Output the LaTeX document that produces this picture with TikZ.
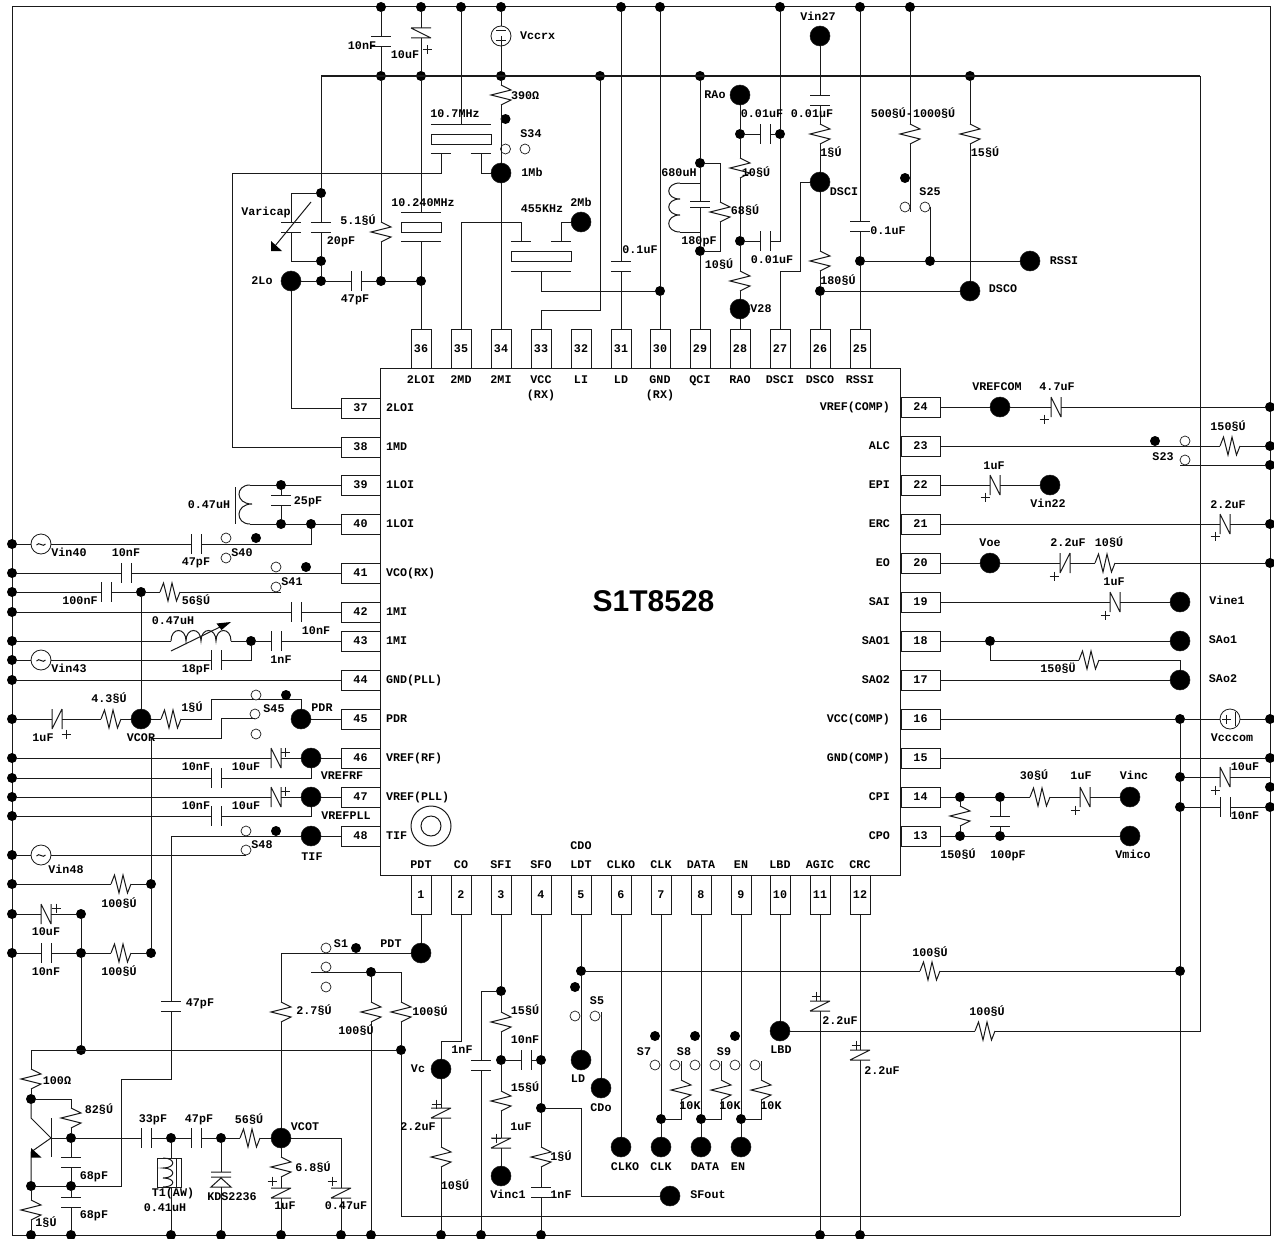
\documentclass[tikz,border=0pt]{standalone}
\usepackage{fontspec}
\setmainfont{Liberation Mono}
\newfontfamily\titlefont{Liberation Sans}
\definecolor{ink}{HTML}{1A1A1A}
\newcounter{labc}
\newcommand\Cc[3]{\coordinate (#1) at (#2,#3);}
\newcommand\Dt[3]{\node[dotn] (#1) at (#2,#3) {};}
\newcommand\Tm[3]{\node[termn] (#1) at (#2,#3) {};}
\newcommand\Op[2]{\node[openn] (o#1-#2) at (#1,#2) {};}
\newcommand\Lb[3]{\stepcounter{labc}\node[lab] (lab\thelabc) at (#1,#2) {#3};}
\newcommand\Lw[3]{\stepcounter{labc}\node[lab,anchor=west] (lab\thelabc) at (#1,#2) {#3};}
\newcommand\Le[3]{\stepcounter{labc}\node[lab,anchor=east] (lab\thelabc) at (#1,#2) {#3};}
\newcommand\Rv[3]{\node[comp,minimum width=20pt,minimum height=20pt] (#1) at (#2,#3) {};
  \draw[sym,shift={(#2,#3)}] (0,-10)--(10,-5)--(-10,0)--(10,5)--(0,10);}
\newcommand\Rh[3]{\node[comp,minimum width=20pt,minimum height=18pt] (#1) at (#2,#3) {};
  \draw[sym,shift={(#2,#3)}] (-10,0)--(-6.5,-9)--(-2,9)--(2,-9)--(6.5,9)--(10,0);}
\newcommand\Cv[3]{\node[comp,minimum width=20pt,minimum height=10pt] (#1) at (#2,#3) {};
  \draw[sym,shift={(#2,#3)}] (-10,-5)--(10,-5) (-10,5)--(10,5);}
\newcommand\Ch[3]{\node[comp,minimum width=10pt,minimum height=20pt] (#1) at (#2,#3) {};
  \draw[sym,shift={(#2,#3)}] (-5,-10)--(-5,10) (5,-10)--(5,10);}
\newcommand\Ev[3]{\node[comp,minimum width=20pt,minimum height=10pt] (#1) at (#2,#3) {};
  \draw[sym,shift={(#2,#3)}] (-10,-5)--(10,-5) (-10,5)--(10,5) (-10,5)--(10,-5);}
\newcommand\Evb[3]{\node[comp,minimum width=20pt,minimum height=10pt] (#1) at (#2,#3) {};
  \draw[sym,shift={(#2,#3)}] (-10,-5)--(10,-5) (-10,5)--(10,5) (-10,-5)--(10,5);}
\newcommand\Eh[3]{\node[comp,minimum width=10pt,minimum height=20pt] (#1) at (#2,#3) {};
  \draw[sym,shift={(#2,#3)}] (-5,-10)--(-5,10) (5,-10)--(5,10) (-5,-10)--(5,10);}
\newcommand\Ehf[3]{\node[comp,minimum width=10pt,minimum height=20pt] (#1) at (#2,#3) {};
  \draw[sym,shift={(#2,#3)}] (-5,-10)--(-5,10) (5,-10)--(5,10) (-5,10)--(5,-10);}
\newcommand\Pl[2]{\draw[sym,shift={(#1,#2)}] (-4.5,0)--(4.5,0) (0,-4.5)--(0,4.5);}
\newcommand\Vac[3]{\node[srcn] (#1) at (#2,#3) {};
  \draw[sym,shift={(#2,#3)}] (-4.5,1) .. controls (-2,-3) and (2,4) .. (4.5,0);}
\tikzset{
 wire/.style={line width=1pt,draw=ink},
 sym/.style={line width=1pt,draw=ink},
 comp/.style={rectangle,inner sep=0pt,outer sep=0pt},
 dotn/.style={circle,fill=black,inner sep=0pt,outer sep=0pt,minimum size=10pt},
 termn/.style={circle,fill=black,draw=ink,line width=.5pt,inner sep=0pt,outer sep=0pt,minimum size=20pt},
 openn/.style={circle,fill=white,draw=ink,line width=.7pt,inner sep=0pt,outer sep=0pt,minimum size=10pt},
 srcn/.style={circle,fill=white,draw=ink,line width=.8pt,inner sep=0pt,outer sep=0pt,minimum size=20pt},
 lab/.style={inner sep=0pt,outer sep=0pt,text height=8pt,text depth=1pt,font=\fontsize{11.7}{12}\selectfont\bfseries,text=black},
 pinv/.style={draw=ink,line width=1pt,rectangle,inner sep=0pt,outer sep=0pt,minimum width=20pt,minimum height=39pt,font=\fontsize{11.7}{12}\selectfont\bfseries},
 pinh/.style={draw=ink,line width=1pt,rectangle,inner sep=0pt,outer sep=0pt,minimum width=39pt,minimum height=20pt,font=\fontsize{11.7}{12}\selectfont\bfseries},
 xtal/.style={draw=ink,line width=1pt,rectangle,inner sep=0pt,outer sep=0pt},
}
\begin{document}
\begin{tikzpicture}[x=1pt,y=-1pt]
\useasboundingbox (0,0) rectangle (1274,1239);
\fill[white] (0,0) rectangle (1274,1239);
% frame and chip
\node[draw=ink,line width=1pt,rectangle,inner sep=0pt,minimum width=1258pt,minimum height=1228pt] (frame) at (641,621) {};
\node[draw=ink,line width=1pt,rectangle,inner sep=0pt,minimum width=519.5pt,minimum height=507pt] (chip) at (640.25,621.5) {};
\node[font=\titlefont\fontsize{30}{30}\selectfont\bfseries,inner sep=0pt] (title) at (653.5,601) {S1T8528};
\node[circle,draw=ink,line width=1pt,minimum size=40pt,inner sep=0pt] (mark1) at (431,826) {};
\node[circle,draw=ink,line width=1pt,minimum size=20pt,inner sep=0pt] (mark2) at (431,826) {};
% pins
\foreach \n/\x in {36/421,35/461,34/501,33/541,32/581,31/621,30/660,29/700,28/740,27/780,26/820,25/860}
  {\node[pinv] (p\n) at (\x,348.5) {\n};}
\foreach \n/\x in {1/421,2/461,3/501,4/541,5/581,6/621,7/661,8/701,9/741,10/780,11/820,12/860}
  {\node[pinv] (p\n) at (\x,894.5) {\n};}
\foreach \n/\y in {37/408,38/447,39/485,40/524,41/573,42/612,43/641,44/680,45/719,46/758,47/797,48/836}
  {\node[pinh] (p\n) at (360.5,\y) {\n};}
\foreach \n/\y in {24/407,23/446,22/485,21/524,20/563,19/602,18/641,17/680,16/719,15/758,14/797,13/836}
  {\node[pinh] (p\n) at (920.5,\y) {\n};}
% pin names
\foreach \x/\t in {421/2LOI,461/2MD,501/2MI,541/VCC,581/LI,621/LD,660/GND,700/QCI,740/RAO,780/DSCI,820/DSCO,860/RSSI}
  {\Lb{\x}{380}{\t}}
\Lb{541}{395}{(RX)}\Lb{660}{395}{(RX)}
\foreach \x/\t in {421/PDT,461/CO,501/SFI,541/SFO,581/LDT,621/CLKO,661/CLK,701/DATA,741/EN,780/LBD,820/AGIC,860/CRC}
  {\Lb{\x}{865}{\t}}
\Lb{581}{846}{CDO}
\foreach \y/\t in {408/2LOI,447/1MD,485/1LOI,524/1LOI,573/VCO(RX),612/1MI,641/1MI,680/GND(PLL),719/PDR,758/VREF(RF),797/VREF(PLL),836/TIF}
  {\Lw{386}{\y}{\t}}
\foreach \y/\t in {407/VREF(COMP),446/ALC,485/EPI,524/ERC,563/EO,602/SAI,641/SAO1,680/SAO2,719/VCC(COMP),758/GND(COMP),797/CPI,836/CPO}
  {\Le{890}{\y}{\t}}
% rail dots
\foreach \x in {381,421,461,501,621,660,780,860,910} {\node[dotn] (dt\x) at (\x,7) {};}
\foreach \x in {31,71,171,221,281,341,371,441,481,541,820,860} {\node[dotn] (db\x) at (\x,1235) {};}
\foreach \y in {544,573,592,612,641,660,680,719,758,778,797,816,855,884,914,953} {\node[dotn] (dl\y) at (12,\y) {};}
\foreach \y in {407,446,465,524,563,719,758,787,807} {\node[dotn] (dr\y) at (1270,\y) {};}
% ---------- top left
\Cc{bus0}{321}{76}\Cc{bus1}{1200}{76}
\Cv{c10n}{381}{42}\Evb{e10u}{421}{33}
\node[srcn] (vccrx) at (501,36) {};
\draw[sym] (496,31)--(506,31) (496,41)--(506,41) (501,36)--(501,46);
\Dt{j381}{381}{76}\Dt{j421}{421}{76}\Dt{j501}{501}{76}\Dt{j600}{600}{76}
\Dt{j700}{700}{76}\Dt{j970}{970}{76}
\Rv{r390}{501}{95}\Rv{r51}{381}{232}
\Dt{k381}{381}{281}\Dt{k421}{421}{281}\Dt{k321}{321}{281}
\Tm{t2Lo}{291}{281}\Tm{t1Mb}{501}{173}
\Dt{s34}{505.5}{119}\Op{505.5}{149}\Op{525}{149}
\Dt{v1}{321}{193}\Dt{v2}{321}{261}
\Cv{c20p}{321}{227}\Cv{cvar}{291}{227}
\Ch{c47a}{356}{281}
\draw[wire] (bus0)--(bus1);
\draw[wire] (dt381)--(c10n)--(j381)--(r51)--(k381);
\draw[wire] (dt421)--(e10u)--(j421);
\draw[wire] (dt501)--(vccrx)--(j501)--(r390)--(t1Mb)--(p34);
\draw[wire] (bus0)--(v1)--(c20p)--(v2)--(k321);
\Cc{va}{291}{193}\Cc{vb}{291}{261}
\draw[wire] (v1)--(va)--(cvar)--(vb)--(v2);
\draw[sym] (311,202)--(275,246);
\fill[black] (271,241)--(271,251)--(282,251)--cycle;
\draw[wire] (t2Lo)--(k321)--(c47a)--(k381)--(k421)--(p36);
\Cc{c37}{291}{408}\draw[wire] (t2Lo)--(c37)--(p37);
% 10.7 MHz crystal
\node[xtal,minimum width=60pt,minimum height=10pt] (x107) at (461,139) {};
\draw[sym] (431,124)--(491,124) (431,153.5)--(451,153.5) (471,153.5)--(491,153.5);
\Cc{xa}{461}{124}\draw[wire] (dt461)--(xa);
\Cc{xb}{441}{153.5}\Cc{xc}{441}{173}\Cc{xd}{232}{173}\Cc{xe}{232}{447}
\draw[wire] (xb)--(xc)--(xd)--(xe)--(p38);
\Cc{xf}{481}{153.5}\Cc{xg}{481}{173}\draw[wire] (xf)--(xg)--(t1Mb);
% 10.24 MHz crystal
\node[xtal,minimum width=40pt,minimum height=10pt] (x1024) at (421,227) {};
\draw[sym] (401,212)--(441,212) (401,241)--(441,241);
\Cc{ya}{421}{212}\Cc{yb}{421}{241}
\draw[wire] (j421)--(ya) (yb)--(k421);
% 455 kHz filter
\node[xtal,minimum width=60pt,minimum height=10pt] (x455) at (541,256) {};
\draw[sym] (511,241)--(531,241) (551,241)--(571,241) (511,271)--(571,271);
\Tm{t2Mb}{581}{222}
\Cc{za}{461}{222}\Cc{zb}{521}{222}\Cc{zc}{521}{241}
\draw[wire] (p35)--(za)--(zb)--(zc);
\Cc{zd}{561}{241}\Cc{ze}{561}{222}\draw[wire] (t2Mb)--(ze)--(zd);
\Dt{k660}{660}{291}
\Cc{zf}{541}{271}\Cc{zg}{541}{291}\draw[wire] (zf)--(zg)--(k660);
\Cc{zh}{541}{310}\Cc{zi}{600}{310}\draw[wire] (p33)--(zh)--(zi)--(j600);
\Cv{c01a}{621}{266}\draw[wire] (dt621)--(c01a)--(p31);
\draw[wire] (dt660)--(k660)--(p30);
% ---------- top middle
\Dt{k700a}{700}{163}\Dt{k700b}{700}{251}
\node[comp,minimum width=20pt,minimum height=6pt] (c180) at (700,204) {};
\draw[sym] (690,201)--(710,201) (690,207)--(710,207);
\draw[wire] (j700)--(k700a)--(c180)--(k700b)--(p29);
\draw[sym] (680,183)--(700,183) (680,232)--(700,232);
\draw[sym] (680,183) .. controls (665,183) and (665,199) .. (680,199)
  .. controls (665,199) and (665,215) .. (680,215) .. controls (665,215) and (665,232) .. (680,232);
\Rv{r68}{720}{212}
\Cc{ra}{720}{163}\Cc{rb}{720}{251}
\draw[wire] (k700a)--(ra)--(r68)--(rb)--(k700b);
\Tm{tRAo}{740}{95}\Dt{k740a}{740}{134}\Dt{k740b}{740}{241}\Tm{tV28}{740}{309}
\Rv{r10a}{740}{168}\Rv{r10b}{740}{281}
\draw[wire] (tRAo)--(k740a)--(r10a)--(k740b)--(r10b)--(tV28)--(p28);
\Ch{c01b}{765}{134}\Ch{c01c}{765}{241}\Dt{k780}{780}{134}
\draw[wire] (k740a)--(c01b)--(k780);
\Cc{rc}{780}{241}\draw[wire] (k740b)--(c01c)--(rc)--(k780)--(dt780);
\Tm{tV27}{820}{36}\Cv{c01d}{820}{100}\Rv{r1a}{820}{134}\Tm{tDSCI}{820}{182}
\Rv{r180}{820}{261}\Dt{k820}{820}{291}
\draw[wire] (tV27)--(c01d)--(r1a)--(tDSCI)--(r180)--(k820)--(p26);
\Cc{da}{780}{271}\Cc{db}{800}{271}\Cc{dc}{800}{182}
\draw[wire] (p27)--(da)--(db)--(dc)--(tDSCI);
\Tm{tDSCO}{970}{291}
\draw[wire] (k820)--(tDSCO);
\Rv{r15}{970}{134}\draw[wire] (j970)--(r15)--(tDSCO);
\Cv{c01e}{860}{226}\Dt{k860}{860}{261}\Dt{k930}{930}{261}\Tm{tRSSI}{1030}{261}
\draw[wire] (dt860)--(c01e)--(k860)--(p25);
\draw[wire] (k860)--(k930)--(tRSSI);
\Cc{sa}{930}{207}\draw[wire] (k930)--(sa);
\Rv{r500}{910}{134}\Cc{sb}{910}{212}
\draw[wire] (dt910)--(r500)--(sb);
\Dt{s25}{905}{178}\Op{905}{207}\Op{925}{207}
% ---------- left
\draw[sym] (235,487)--(235,524);
\Dt{k281a}{281}{485}\Dt{k281b}{281}{524}\Dt{k311}{311}{524}
\Cv{c25}{281}{500}
\draw[wire] (p39)--(k281a)--(c25)--(k281b)--(k311)--(p40);
\Cc{la}{250}{485}\Cc{lb}{250}{524}
\draw[wire] (k281a)--(la) (k281b)--(lb);
\draw[sym] (la) .. controls (235,485) and (235,504) .. (252,504) .. controls (235,504) and (235,524) .. (lb);
\Vac{v40}{41}{544}\Ch{c47b}{196}{544}
\Cc{lc}{311}{544}
\draw[wire] (dl544)--(v40)--(c47b)--(lc)--(k311);
\Dt{s40}{256}{538}\Op{226}{538}\Op{226}{558}
\Ch{c10b}{126}{573}\draw[wire] (dl573)--(c10b)--(p41);
\Dt{s41}{306}{567}\Op{276}{567}\Op{276}{587}
\Ch{c100}{106}{592}\Dt{k141}{141}{592}\Rh{r56a}{170}{592}\Cc{le}{281}{592}
\draw[wire] (dl592)--(c100)--(k141)--(r56a)--(le);
\Ch{c10c}{296}{612}\draw[wire] (dl612)--(c10c)--(p42);
\Cc{ma}{171}{641}\Cc{mb}{231}{641}\Dt{k251}{251}{641}\Ch{c1n}{276}{641}
\draw[wire] (dl641)--(ma) (mb)--(k251)--(c1n)--(p43);
\draw[sym] (ma) .. controls (171,627) and (186,627) .. (186,641) .. controls (186,627) and (201,627) .. (201,641)
  .. controls (201,627) and (216,627) .. (216,641) .. controls (216,627) and (231,627) .. (mb);
\draw[sym] (171,651)--(222,626);
\fill[black] (231,622)--(216.5,623.5)--(221.5,630)--cycle;
\Vac{v43}{41}{660}\Ch{c18}{216}{660}\Cc{mc}{251}{660}
\draw[wire] (dl660)--(v43)--(c18)--(mc)--(k251);
\draw[wire] (dl680)--(p44);
\Ehf{e1a}{57}{719}\Rh{r43}{111}{719}\Tm{tVCOR}{141}{719}\Rh{r1b}{171}{719}\Tm{tPDR}{301}{719}
\draw[wire] (dl719)--(e1a)--(r43)--(tVCOR)--(r1b);
\Cc{na}{211}{719}\Cc{nb}{211}{699}\Cc{nc}{301}{699}
\draw[wire] (r1b)--(na)--(nb)--(nc)--(tPDR)--(p45);
\draw[wire] (k141)--(tVCOR);
\Dt{s45}{286}{695}\Op{256}{695}\Op{255}{714}\Op{256}{734}
\Cc{nd}{255}{718}\Cc{ne}{221}{718}\Cc{nf}{221}{738}\Cc{ng}{151}{738}
\Dt{k151a}{151}{884}\Dt{k151b}{151}{953}
\draw[wire] (nd)--(ne)--(nf)--(ng)--(k151a)--(k151b);
\Eh{e10a}{276}{758}\Tm{tVRF}{311}{758}
\draw[wire] (dl758)--(e10a)--(tVRF)--(p46);
\Ch{c10d}{216}{778}\Cc{oa}{311}{778}\draw[wire] (dl778)--(c10d)--(oa)--(tVRF);
\Eh{e10b}{276}{797}\Tm{tVPL}{311}{797}
\draw[wire] (dl797)--(e10b)--(tVPL)--(p47);
\Ch{c10e}{216}{816}\Cc{ob}{311}{816}\draw[wire] (dl816)--(c10e)--(ob)--(tVPL);
\Tm{tTIF}{311}{836}\Cc{pa}{171}{836}\Cv{c47c}{171}{1006}\Cc{pb}{171}{1079}\Cc{pc}{121}{1079}\Cc{pd}{121}{1186}
\Dt{k71c}{71}{1186}
\draw[wire] (p48)--(tTIF)--(pa)--(c47c)--(pb)--(pc)--(pd)--(k71c);
\Dt{s48}{276}{831}\Op{246}{831}\Op{246}{850}
\Vac{v48}{41}{855}\Cc{pe}{246}{855}\draw[wire] (dl855)--(v48)--(pe);
\Rh{r100a}{121}{884}\draw[wire] (dl884)--(r100a)--(k151a);
\Eh{e10c}{46}{914}\Dt{k81a}{81}{914}\draw[wire] (dl914)--(e10c)--(k81a);
\Ch{c10f}{46}{953}\Dt{k81b}{81}{953}\Rh{r100b}{121}{953}
\draw[wire] (dl953)--(c10f)--(k81b)--(r100b)--(k151b);
\Dt{k81c}{81}{1050}\draw[wire] (k81a)--(k81b)--(k81c);
% ---------- lower left
\Dt{k401}{401}{1050}\Cc{qa}{31}{1050}\draw[wire] (qa)--(k401);
\Rv{r100o}{31}{1079}\Dt{k31a}{31}{1099}\Dt{k31b}{31}{1186}\Rv{r1c}{31}{1210}
\draw[wire] (qa)--(r100o)--(k31a);
\draw[wire] (k31b)--(r1c)--(db31);
\Cc{qb}{71}{1099}\Rv{r82}{71}{1118}\Dt{k71a}{71}{1138}\draw[wire] (k31a)--(qb)--(r82)--(k71a);
\draw[sym] (51,1118)--(51,1157);
\Cc{qc}{31}{1118}\Cc{qd}{51}{1138}\Cc{qe}{31}{1152}
\draw[wire] (k31a)--(qc)--(qd)--(qe)--(k31b);
\fill[black] (31,1148)--(31,1157.5)--(41.5,1157.5)--cycle;
\Ch{c33}{146}{1138}\Dt{k171}{171}{1138}\Ch{c47d}{196}{1138}\Dt{k221}{221}{1138}\Rh{r56b}{250}{1138}\Tm{tVCOT}{281}{1138}
\draw[wire] (qd)--(k71a)--(c33)--(k171)--(c47d)--(k221)--(r56b)--(tVCOT);
\Cv{c68a}{71}{1162}\Cv{c68b}{71}{1202}
\draw[wire] (k71a)--(c68a)--(k71c)--(c68b)--(db71);
\draw[wire] (k31b)--(k71c);
\node[xtal,minimum width=24pt,minimum height=29pt] (t1) at (169,1172.5) {};
\draw[sym] (176.5,1158)--(176.5,1187);
\draw[sym] (163,1158) .. controls (176,1158) and (176,1168) .. (163,1168) .. controls (176,1168) and (176,1178) .. (163,1178) .. controls (176,1178) and (176,1187) .. (163,1187);
\Cc{tq}{171}{1158}\Cc{tr}{171}{1187}
\draw[wire] (k171)--(tq) (tr)--(db171);
\node[comp,minimum width=20pt,minimum height=15pt] (kds) at (221,1179.5) {};
\draw[sym] (211,1172)--(231,1172) (211,1177)--(231,1177) (221,1178)--(211,1187)--(231,1187)--cycle;
\draw[wire] (k221)--(kds)--(db221);
\Rv{r68k}{281}{1167}\Ev{e1b}{281}{1193}\draw[wire] (tVCOT)--(r68k)--(e1b)--(db281);
\Cc{qf}{341}{1138}\Ev{e047}{341}{1193}\draw[wire] (tVCOT)--(qf)--(e047)--(db341);
\Tm{tPDT}{421}{953}\Cc{ra1}{281}{953}\Rv{r27}{281}{1012}
\draw[wire] (p1)--(tPDT)--(ra1)--(r27)--(tVCOT);
\Dt{s1}{356}{948}\Op{326}{948}\Op{326}{967}\Op{326}{987}
\Cc{rb1}{311}{972}\Dt{k371}{371}{972}\Cc{rc1}{401}{972}\Rv{r100c}{371}{1012}\Rv{r100d}{401}{1012}
\draw[wire] (rb1)--(k371)--(rc1)--(r100d)--(k401);
\draw[wire] (k371)--(r100c)--(db371);
\Cc{rd1}{401}{1216}\Cc{re1}{1180}{1216}
\draw[wire] (k401)--(rd1)--(re1);
% ---------- bottom
\Cc{ua}{461}{1041}\Cc{ub}{441}{1041}\Tm{tVc}{441}{1069}\Ev{e22a}{441}{1113}\Rv{r10c}{441}{1157}
\draw[wire] (p2)--(ua)--(ub)--(tVc)--(e22a)--(r10c)--(db441);
\Dt{k501a}{501}{991}\Rv{r15a}{501}{1022}\Dt{k501b}{501}{1060}\Rv{r15b}{501}{1101}\Ev{e1c}{501}{1143}\Tm{tVinc1}{501}{1176}
\draw[wire] (p3)--(k501a)--(r15a)--(k501b)--(r15b)--(e1c)--(tVinc1);
\Cc{uc}{481}{991}\Cv{c1na}{481}{1065}\draw[wire] (k501a)--(uc)--(c1na)--(db481);
\Ch{c10g}{526}{1060}\Dt{k541a}{541}{1060}\draw[wire] (k501b)--(c10g)--(k541a);
\Dt{k541b}{541}{1108}\Rv{r1d}{541}{1157}\Cv{c1nb}{541}{1192}
\draw[wire] (p4)--(k541a)--(k541b)--(r1d)--(c1nb)--(db541);
\Cc{ud}{581}{1108}\Cc{ue}{581}{1196}\Tm{tSFout}{670}{1196}\draw[wire] (k541b)--(ud)--(ue)--(tSFout);
\Dt{k581}{581}{971}\Tm{tLD}{581}{1060}\draw[wire] (p5)--(k581)--(tLD);
\Dt{s5}{575}{987}\Op{575}{1016}\Op{595}{1016}
\Tm{tCDo}{601}{1088}\Cc{ug}{601}{1012}\draw[wire] (ug)--(tCDo);
\Tm{tCLKO}{621}{1147}\draw[wire] (p6)--(tCLKO);
\foreach \x/\y/\z/\w/\v in {661/681/655/675/7,701/721/695/715/8,741/761/735/755/9}{
  \node[dotn] (kk\v) at (\x,1119) {};
  \node[termn] (tt\v) at (\x,1147) {};
  \node[comp,minimum width=20pt,minimum height=20pt] (rr\v) at (\y,1090) {};
  \draw[sym,shift={(\y,1090)}] (0,-10)--(10,-5)--(-10,0)--(10,5)--(0,10);
  \coordinate (ta\v) at (\y,1061);
  \coordinate (tb\v) at (\y,1119);
  \draw[wire] (p\v)--(kk\v)--(tt\v);
  \draw[wire] (ta\v)--(rr\v)--(tb\v)--(kk\v);
  \node[dotn] (sw\v) at (\z,1036) {};
  \node[openn] (oa\v) at (\z,1065) {};
  \node[openn] (ob\v) at (\w,1065) {};
}
\Tm{tLBD}{780}{1031}\draw[wire] (p10)--(tLBD);
\Rh{r100e}{985}{1031}\Cc{vv}{1200}{1031}
\draw[wire] (tLBD)--(r100e)--(vv)--(bus1);
\Rh{r100f}{930}{971}\Dt{k1180c}{1180}{971}\draw[wire] (k581)--(r100f)--(k1180c);
\Ev{e22b}{820}{1006}\draw[wire] (p11)--(e22b)--(db820);
\Ev{e22c}{860}{1055}\draw[wire] (p12)--(e22c)--(db860);
% ---------- right
\Tm{tVrefc}{1000}{407}\Eh{e47}{1056}{407}\draw[wire] (p24)--(tVrefc)--(e47)--(dr407);
\Rh{r150a}{1230}{446}\draw[wire] (p23)--(r150a)--(dr446);
\Dt{s23}{1155}{441}\Op{1185}{441}\Op{1185}{460}
\Cc{wa}{1180}{465}\draw[wire] (wa)--(dr465);
\Eh{e1d}{995}{485}\Tm{tV22}{1050}{485}\draw[wire] (p22)--(e1d)--(tV22);
\Eh{e22d}{1225}{524}\draw[wire] (p21)--(e22d)--(dr524);
\Tm{tVoe}{990}{563}\Ehf{e22e}{1065}{563}\Rh{r10d}{1105}{563}
\draw[wire] (p20)--(tVoe)--(e22e)--(r10d)--(dr563);
\Eh{e1e}{1115}{602}\Tm{tVine}{1180}{602}\draw[wire] (p19)--(e1e)--(tVine);
\Dt{k990}{990}{641}\Tm{tSAo1}{1180}{641}\draw[wire] (p18)--(k990)--(tSAo1);
\Tm{tSAo2}{1180}{680}\draw[wire] (p17)--(tSAo2);
\Cc{wb}{990}{660}\Rh{r150b}{1089}{660}\Cc{wc}{1180}{660}
\draw[wire] (k990)--(wb)--(r150b)--(wc)--(tSAo2);
\Dt{k1180a}{1180}{719}\Dt{k1180b}{1180}{777}\Dt{k1180d}{1180}{807}
\node[srcn] (vccc) at (1230,719) {};
\draw[sym] (1222,719)--(1231,719) (1226.5,714.5)--(1226.5,723.5) (1235,712)--(1235,726);
\draw[wire] (p16)--(k1180a)--(vccc)--(dr719);
\draw[wire] (p15)--(dr758);
\Eh{e10d}{1225}{777}\Cc{wd}{1270}{777}\draw[wire] (k1180b)--(e10d)--(wd);
\Ch{c10h}{1225}{807}\draw[wire] (k1180d)--(c10h)--(dr807);
\draw[wire] (k1180a)--(k1180b)--(k1180d)--(k1180c)--(re1);
\Dt{k960a}{960}{797}\Dt{k1000a}{1000}{797}\Rh{r30}{1040}{797}\Eh{e1f}{1085}{797}\Tm{tVinc}{1130}{797}
\draw[wire] (p14)--(k960a)--(k1000a)--(r30)--(e1f)--(tVinc);
\Dt{k960b}{960}{836}\Dt{k1000b}{1000}{836}\Tm{tVmico}{1130}{836}
\draw[wire] (p13)--(k960b)--(k1000b)--(tVmico);
\Rv{r150c}{960}{816}\Cv{c100p}{1000}{821}
\draw[wire] (k960a)--(r150c)--(k960b) (k1000a)--(c100p)--(k1000b);
% plus marks
\Pl{427}{50}\Pl{66}{734}\Pl{285}{752}\Pl{285}{791}\Pl{56}{908}\Pl{272}{1181}\Pl{332}{1181}
\Pl{436}{1104}\Pl{496}{1138}\Pl{816}{996}\Pl{856}{1045}\Pl{1044}{419}\Pl{985}{497}\Pl{1215}{536}
\Pl{1054}{576}\Pl{1105}{615}\Pl{1215}{790}\Pl{1075}{810}
% labels top
\Lb{362}{46}{10nF}\Lb{405}{55}{10uF}\Lw{520}{36}{Vccrx}\Lw{511}{96}{390Ω}\Lb{455}{114}{10.7MHz}
\Lb{531}{134}{S34}\Lb{532}{173}{1Mb}\Lb{266}{212}{Varicap}\Lb{341}{241}{20pF}\Lb{358}{221}{5.1§Ú}
\Lb{423}{203}{10.240MHz}\Lb{262}{281}{2Lo}\Lb{355}{299}{47pF}\Lb{542}{209}{455KHz}\Lb{581}{203}{2Mb}
\Lb{640}{250}{0.1uF}
\Lb{679}{173}{680uH}\Lb{745}{211}{68§Ú}\Lb{699}{241}{180pF}\Lb{719}{265}{10§Ú}
\Lb{715}{95}{RAo}\Lb{762}{114}{0.01uF}\Lb{756}{173}{10§Ú}\Lb{772}{260}{0.01uF}\Lb{761}{309}{V28}
\Lb{818}{17}{Vin27}\Lb{812}{114}{0.01uF}\Lb{831}{153}{1§Ú}\Lb{844}{192}{DSCI}\Lb{838}{281}{180§Ú}
\Lb{913}{114}{500§Ú-1000§Ú}\Lb{985}{153}{15§Ú}\Lb{930}{192}{S25}\Lb{888}{231}{0.1uF}
\Lb{1064}{261}{RSSI}\Lb{1003}{289}{DSCO}
% labels left
\Lb{209}{505}{0.47uH}\Lb{308}{501}{25pF}\Lb{69}{553}{Vin40}\Lb{126}{553}{10nF}\Lb{196}{562}{47pF}\Lb{242}{553}{S40}
\Lb{292}{582}{S41}\Lb{80}{601}{100nF}\Lb{196}{601}{56§Ú}\Lb{316}{631}{10nF}\Lb{173}{621}{0.47uH}
\Lb{281}{660}{1nF}\Lb{196}{669}{18pF}\Lb{69}{669}{Vin43}
\Lb{109}{699}{4.3§Ú}\Lb{192}{708}{1§Ú}\Lb{43}{738}{1uF}\Lb{141}{738}{VCOR}\Lb{274}{709}{S45}\Lb{322}{708}{PDR}
\Lb{196}{767}{10nF}\Lb{246}{767}{10uF}\Lb{342}{776}{VREFRF}\Lb{196}{806}{10nF}\Lb{246}{806}{10uF}\Lb{346}{816}{VREFPLL}
\Lb{262}{845}{S48}\Lb{312}{857}{TIF}\Lb{66}{870}{Vin48}
\Lb{119}{904}{100§Ú}\Lb{46}{932}{10uF}\Lb{46}{972}{10nF}\Lb{119}{972}{100§Ú}
\Lb{200}{1003}{47pF}\Lb{57}{1081}{100Ω}\Lb{99}{1110}{82§Ú}
\Lb{153}{1119}{33pF}\Lb{199}{1119}{47pF}\Lb{249}{1120}{56§Ú}\Lb{305}{1127}{VCOT}
\Lb{94}{1176}{68pF}\Lb{94}{1215}{68pF}\Lb{46}{1223}{1§Ú}
\Lb{173}{1193}{T1(AW)}\Lb{165}{1208}{0.41uH}\Lb{232}{1197}{KDS2236}
\Lb{313}{1168}{6.8§Ú}\Lb{285}{1206}{1uF}\Lb{346}{1206}{0.47uF}
\Lb{341}{944}{S1}\Lb{391}{944}{PDT}\Lb{314}{1011}{2.7§Ú}\Lb{356}{1031}{100§Ú}\Lb{430}{1012}{100§Ú}
% labels bottom
\Lb{418}{1069}{Vc}\Lb{418}{1127}{2.2uF}\Lb{455}{1186}{10§Ú}\Lb{462}{1050}{1nF}\Lb{525}{1011}{15§Ú}\Lb{525}{1040}{10nF}
\Lb{525}{1088}{15§Ú}\Lb{521}{1127}{1uF}\Lb{508}{1195}{Vinc1}\Lb{561}{1157}{1§Ú}\Lb{561}{1195}{1nF}\Lb{708}{1195}{SFout}
\Lb{597}{1001}{S5}\Lb{578}{1079}{LD}\Lb{601}{1108}{CDo}\Lb{625}{1167}{CLKO}\Lb{661}{1167}{CLK}\Lb{705}{1167}{DATA}\Lb{738}{1167}{EN}
\Lb{644}{1052}{S7}\Lb{684}{1052}{S8}\Lb{724}{1052}{S9}\Lb{690}{1106}{10K}\Lb{730}{1106}{10K}\Lb{771}{1106}{10K}
\Lb{781}{1050}{LBD}\Lb{840}{1021}{2.2uF}\Lb{882}{1071}{2.2uF}\Lb{930}{953}{100§Ú}\Lb{987}{1012}{100§Ú}
% labels right
\Lb{997}{387}{VREFCOM}\Lb{1057}{387}{4.7uF}\Lb{1228}{427}{150§Ú}\Lb{1163}{457}{S23}\Lb{994}{466}{1uF}\Lb{1048}{504}{Vin22}
\Lb{1228}{505}{2.2uF}\Lb{990}{543}{Voe}\Lb{1068}{543}{2.2uF}\Lb{1109}{543}{10§Ú}\Lb{1114}{582}{1uF}\Lb{1227}{601}{Vine1}
\Lb{1223}{640}{SAo1}\Lb{1058}{669}{150§Ü}\Lb{1223}{679}{SAo2}\Lb{1232}{738}{Vcccom}\Lb{1245}{767}{10uF}\Lb{1245}{816}{10nF}
\Lb{1034}{776}{30§Ú}\Lb{1081}{776}{1uF}\Lb{1134}{776}{Vinc}\Lb{1133}{855}{Vmico}\Lb{958}{855}{150§Ú}\Lb{1008}{855}{100pF}
\end{tikzpicture}
\end{document}
